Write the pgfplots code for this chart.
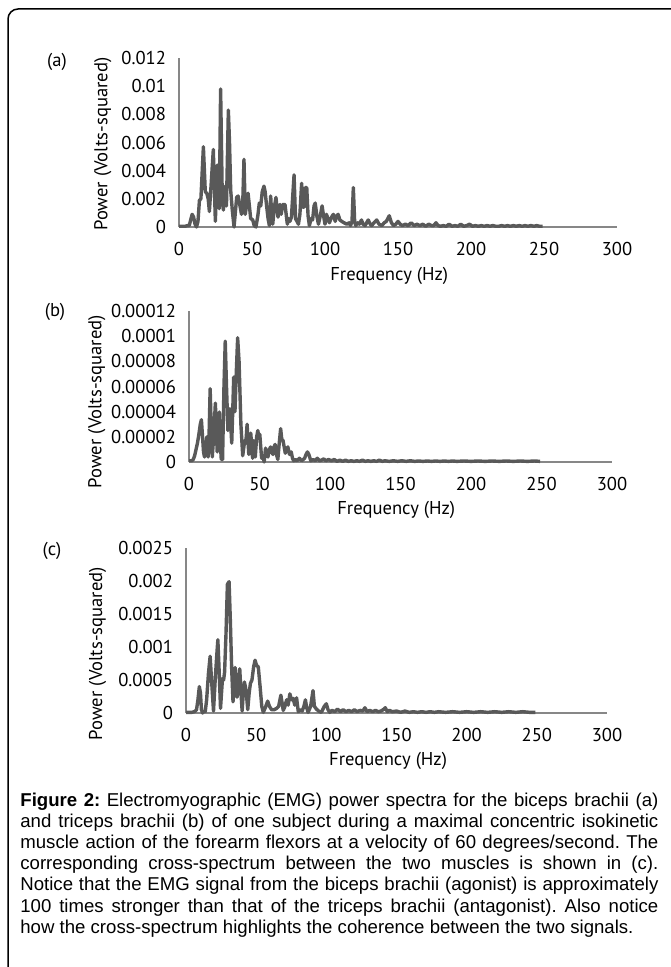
\documentclass[border=0pt]{standalone}
\usepackage{pgfplots}
\pgfplotsset{compat=1.18}
\usepackage{fontspec}
\setmainfont{Liberation Sans}
\newfontfamily\plotfont{PT Sans}
\definecolor{series}{HTML}{595959}
\definecolor{axisgray}{HTML}{878787}

\pgfplotsset{
  emg/.style={
    scale only axis,
    axis x line*=bottom, axis y line*=left,
    axis line style={axisgray, line width=0.8pt},
    xmin=0, xmax=300, xtick={0,50,...,300},
    ymin=0,
    major tick length=0pt,
    tick label style={font=\plotfont\fontsize{9.3}{11}\selectfont},
    label style={font=\plotfont\fontsize{9.3}{11}\selectfont},
    /pgf/number format/assume math mode=true,
    scaled y ticks=false,
    clip=false,
    xticklabel style={yshift=-4pt},
    yticklabel style={xshift=-3pt},
  },
  emgline/.style={draw=series, line width=1.7pt, line join=round, mark=none},
}

\begin{document}
\begin{tikzpicture}
\useasboundingbox (0pt,0pt) rectangle (335pt,-483.5pt);
\draw[line width=0.75pt, rounded corners=5pt] (4pt,-490pt) -- (4pt,-4.5pt) -- (340pt,-4.5pt);

% (a) biceps brachii
\begin{axis}[emg,
  at={(89.5pt,-113.5pt)}, anchor=south west,
  width=219pt, height=84.5pt,
  ymax=0.012,
  ytick={0,0.002,0.004,0.006,0.008,0.01,0.012},
  yticklabels={0,0.002,0.004,0.006,0.008,0.01,0.012},
  xlabel={Frequency (Hz)}, ylabel={Power (Volts-squared)},
  xlabel style={at={(axis description cs:0.48,-0.29)}, anchor=center},
  ylabel style={at={(axis description cs:-0.174,0.49)}, anchor=center},
]
\addplot[emgline] coordinates {
(0,0.00005) (2,0.00005) (4,0.00005) (6,0.0001) (7,0.0001) (8,0.0005) (9,0.0009) (10,0.0007) (11,0.0002) (12,0) (13,0.0004) (14,0.0019) (15,0.002) (16.7,0.0057) (18,0.0025) (19,0.0024) (20,0.002) (20.8,0.0011) (22,0.003) (23.5,0.0055) (24.9,0.0004) (26.2,0.0044) (27.6,0.0013) (28.5,0.0098) (29.5,0.003) (30.4,0.0012) (31.7,0.0029) (32.5,0.0015) (33.8,0.0083) (34.6,0.006) (35.4,0.0026) (36.5,0.0012) (37.7,0) (39.5,0.0021) (40.5,0.0022) (41.4,0.0017) (42.8,0.0009) (43.6,0.0015) (44.5,0.0048) (45.4,0.0009) (46.3,0.0016) (47.3,0.0024) (48.2,0.0015) (49.1,0.0006) (50.5,0.0005) (51.5,0.0001) (52.7,0) (54,0.0008) (55,0.0017) (56,0.0015) (57,0.0025) (58.2,0.0029) (59,0.0025) (60,0.0015) (61,0.0006) (61.9,0.0001) (62.8,0.0022) (63.5,0.0008) (64.2,0.0002) (65.3,0.0014) (66.4,0.0021) (67.8,0.0007) (69.2,0.0016) (70,0.0009) (71,0.0016) (72.6,0.0016) (74.2,0.0002) (75,0.0006) (76,0.0004) (77,0.0007) (78.8,0.0037) (79.8,0.0006) (80.8,0.0004) (81.8,0.0002) (82.8,0.0009) (84,0.0031) (84.8,0.0014) (85.6,0.0014) (86.5,0.0028) (87.5,0.0028) (88.4,0.0008) (89.3,0.0001) (90.5,0.0006) (91.5,0.0005) (92.5,0.0015) (93.3,0.0017) (94.4,0.0008) (95.5,0.0002) (96.8,0.0008) (98,0.0015) (99,0.0008) (100,0.0002) (101,0.0009) (102,0.0006) (103,0.0003) (104.5,0.0007) (105.7,0.0009) (107,0.0004) (108,0.0008) (109,0.0009) (110.2,0.0005) (111.5,0.0004) (113,0.0003) (115,0.0002) (116.5,0.0003) (117.5,0.0001) (118.5,0.0004) (119.4,0.0028) (120.3,0.0004) (121,0.0001) (122.5,0.0003) (123.5,0.0002) (125,0.0005) (126,0.0002) (127.5,0.0001) (128.5,0.0003) (129.6,0.0005) (131,0.0002) (132,0.0001) (133.5,0.0003) (135.4,0.0005) (137,0.0002) (139,0.0001) (140.5,0.0003) (142,0.0004) (144,0.0008) (145.5,0.0003) (147,0.0001) (148.5,0.0002) (150,0.0004) (151.5,0.0002) (153,0.0001) (155,0.0002) (157,0.0001) (159,0.0003) (161,0.0001) (163,0.0002) (165,0.0001) (167,0.0002) (169,0.00005) (171,0.0002) (173,0.0001) (174.5,0.0001) (176,0.0003) (177.5,0.0001) (179,0.00005) (181,0.0001) (183,0.00005) (185,0.0002) (187,0.00005) (189,0.0001) (191,0.00005) (193,0.0002) (195,0.00005) (197,0.0001) (199,0.0002) (201,0.00005) (203,0.0001) (205,0.00005) (207,0.0001) (209,0.00005) (211,0.0001) (213,0.00005) (215,0.0001) (217,0.00005) (219,0.00005) (221,0.0001) (223,0.00005) (225,0.0001) (227,0.00005) (229,0.0001) (231,0.00005) (233,0.0001) (235,0.00005) (237,0.0001) (239,0.00005) (241,0.0001) (243,0.00005) (245,0.0001) (247,0.00005) (249,0.00005)
};
\end{axis}

% (b) triceps brachii
\begin{axis}[emg,
  at={(94.5pt,-231pt)}, anchor=south west,
  width=211.5pt, height=75.5pt,
  ymax=0.00012,
  ytick={0,2e-5,4e-5,6e-5,8e-5,1e-4,1.2e-4},
  yticklabels={0,0.00002,0.00004,0.00006,0.00008,0.0001,0.00012},
  xlabel={Frequency (Hz)}, ylabel={Power (Volts-squared)},
  xlabel style={at={(axis description cs:0.49,-0.32)}, anchor=center},
  ylabel style={at={(axis description cs:-0.218,0.4)}, anchor=center},
]
\addplot[emgline] coordinates {
(0,0.1e-5) (2,0.1e-5) (3,0.2e-5) (4,0.5e-5) (5,1e-5) (6,1.5e-5) (7,2.2e-5) (8,3e-5) (8.8,3.36e-5) (9.6,2e-5) (10.3,0.8e-5) (11,0.4e-5) (11.8,1.2e-5) (12.7,2e-5) (13.6,0.4e-5) (14.3,2.5e-5) (15,5.83e-5) (15.8,2.5e-5) (16.5,0.4e-5) (17.5,2e-5) (18.7,4.68e-5) (19.4,2.5e-5) (20,0.8e-5) (20.8,3e-5) (21.5,3.97e-5) (22.2,1.5e-5) (22.9,0.2e-5) (23.8,0.2e-5) (24.8,6e-5) (25.7,9.6e-5) (26.6,6e-5) (27.6,2.5e-5) (29,4.23e-5) (30.3,1.5e-5) (31,4e-5) (31.7,6.75e-5) (32.6,4e-5) (33.5,7e-5) (34.5,9.87e-5) (35.5,8e-5) (36.8,3e-5) (38.1,0.5e-5) (39.5,1.7e-5) (40.3,1.5e-5) (41.2,3e-5) (42.4,0.6e-5) (43.1,1e-5) (43.8,2.3e-5) (45.1,0.3e-5) (46,1.7e-5) (47,0.4e-5) (48,2e-5) (48.8,2.5e-5) (49.5,2e-5) (50.2,2.2e-5) (51.5,0.3e-5) (52.5,0.5e-5) (53.3,0) (54.3,1.1e-5) (55.2,0.6e-5) (56,0.4e-5) (57,1e-5) (57.9,1.2e-5) (58.7,0.8e-5) (59.5,0.6e-5) (60.3,1.2e-5) (61.1,1.4e-5) (62,0.6e-5) (63,0.2e-5) (64,1.5e-5) (65,2.65e-5) (65.8,1.8e-5) (66.7,1.7e-5) (67.5,1.2e-5) (68.3,0.7e-5) (69.2,1e-5) (70.1,1.2e-5) (71.3,0.6e-5) (72.5,0.8e-5) (73.4,0.3e-5) (74.3,0.1e-5) (75.5,0.2e-5) (76.6,0.1e-5) (77.5,0.2e-5) (78.3,0.3e-5) (79.9,0.1e-5) (81,0.2e-5) (82,0.3e-5) (83,0.6e-5) (84,0.8e-5) (85,0.6e-5) (86.4,0.1e-5) (88,0.2e-5) (89.5,0.1e-5) (91,0.3e-5) (92.5,0.1e-5) (94,0.15e-5) (95.6,0.25e-5) (97,0.1e-5) (99,0.2e-5) (101,0.1e-5) (103,0.2e-5) (105,0.05e-5) (107,0.15e-5) (109,0.05e-5) (111,0.15e-5) (113,0.05e-5) (115,0.1e-5) (117,0.05e-5) (119,0.1e-5) (121,0.05e-5) (123,0.15e-5) (125,0.05e-5) (127,0.1e-5) (129,0.05e-5) (131,0.1e-5) (133,0.05e-5) (135,0.15e-5) (137,0.05e-5) (139,0.1e-5) (142,0.05e-5) (145,0.1e-5) (148,0.05e-5) (151,0.1e-5) (154,0.05e-5) (157,0.1e-5) (160,0.05e-5) (163,0.08e-5) (166,0.05e-5) (169,0.08e-5) (172,0.05e-5) (175,0.08e-5) (178,0.05e-5) (181,0.08e-5) (184,0.05e-5) (187,0.08e-5) (190,0.05e-5) (195,0.08e-5) (200,0.05e-5) (205,0.08e-5) (210,0.05e-5) (215,0.08e-5) (220,0.05e-5) (225,0.08e-5) (230,0.05e-5) (235,0.08e-5) (240,0.05e-5) (245,0.08e-5) (249,0.05e-5)
};
\end{axis}

% (c) cross-spectrum
\begin{axis}[emg,
  at={(93pt,-356.5pt)}, anchor=south west,
  width=210.5pt, height=82.5pt,
  ymax=0.0025,
  ytick={0,0.0005,0.001,0.0015,0.002,0.0025},
  yticklabels={0,0.0005,0.001,0.0015,0.002,0.0025},
  xlabel={Frequency (Hz)}, ylabel={Power (Volts-squared)},
  xlabel style={at={(axis description cs:0.48,-0.29)}, anchor=center},
  ylabel style={at={(axis description cs:-0.21,0.36)}, anchor=center},
]
\addplot[emgline] coordinates {
(0,0.00001) (2,0.00001) (4,0.00001) (6,0.00002) (7.5,0.00005) (8.5,0.0002) (9.5,0.0004) (10.3,0.0003) (11,0.00005) (11.8,0) (12.8,0.00003) (13.7,0.00002) (14.7,0.0002) (16,0.0006) (17.2,0.00086) (18.2,0.0005) (19.6,0.00003) (20.8,0.0005) (22,0.0009) (22.7,0.00111) (23.5,0.0007) (24.6,0.00007) (25.3,0.0003) (26,0.00052) (26.8,0.0005) (27.5,0.00062) (28.5,0.0012) (29.5,0.00195) (30.7,0.00199) (31.6,0.0014) (32.5,0.0007) (33.5,0.00017) (34.3,0.0004) (35,0.00069) (35.7,0.0005) (36.4,0.00024) (37.3,0.0004) (38.3,0.00067) (39.2,0.0003) (40,0.00003) (40.8,0.0003) (41.6,0.00047) (42.3,0.0004) (43,0.0003) (44,0.00005) (45,0.0003) (45.9,0.00045) (47,0.0005) (48.2,0.0007) (49.2,0.0008) (50.3,0.00072) (51.5,0.0007) (52.8,0.0004) (54,0.0001) (55.1,0.00001) (56.5,0.00008) (58.2,0.00018) (59.5,0.0001) (61,0.00005) (62.8,0.00005) (64.6,0.00007) (66,0.0001) (67.6,0.00027) (68.5,0.00015) (69.3,0.00004) (70.5,0.0001) (71.7,0.0002) (72.8,0.00012) (74,0.00029) (75.2,0.0002) (76.4,0.00022) (77.5,0.00012) (78.8,0.00023) (80,0.00002) (81.4,0.00005) (82.8,0.00003) (84,0.0001) (85.1,0.0002) (86,0.00008) (87,0.00001) (88.8,0.0001) (90.5,0.00034) (91.5,0.0001) (92.9,0.00006) (94.5,0.00003) (96.5,0.00001) (98.5,0.0001) (100,0.00014) (101.2,0.00005) (102.4,0.00001) (104,0.00004) (106,0.00002) (108,0.00006) (110,0.00002) (112,0.00005) (114,0.00002) (116,0.00004) (118,0.00002) (120,0.00005) (122,0.00002) (124,0.00004) (126,0.00003) (127.5,0.00008) (129,0.00002) (131,0.00004) (133,0.00002) (135,0.00004) (137,0.00002) (139,0.00003) (140.5,0.00005) (142,0.00008) (143.5,0.00002) (145,0.00004) (147,0.00002) (150,0.00003) (153,0.00001) (156,0.00003) (159,0.00001) (162,0.00002) (165,0.00001) (168,0.00002) (171,0.00001) (174,0.00002) (177,0.00001) (180,0.00002) (185,0.00001) (190,0.00002) (195,0.00001) (200,0.00002) (205,0.00001) (210,0.00002) (215,0.00001) (220,0.00002) (225,0.00001) (230,0.00002) (235,0.00001) (240,0.00002) (245,0.00001) (249,0.00001)
};
\end{axis}

\begin{scope}[every node/.style={font=\plotfont\fontsize{9.3}{11}\selectfont, inner sep=0pt}]
\node at (28.5pt,-31pt) {(a)};
\node at (27.5pt,-156pt) {(b)};
\node at (26pt,-275.5pt) {(c)};
\end{scope}

\node[anchor=base west, inner sep=0pt] at (10pt,-403pt) {\parbox[t]{319pt}{\fontsize{9.3}{10.6}\selectfont\frenchspacing
\textbf{Figure 2:} Electromyographic (EMG) power spectra for the biceps brachii (a)\linebreak
and triceps brachii (b) of one subject during a maximal concentric isokinetic\linebreak
muscle action of the forearm flexors at a velocity of 60 degrees/second. The\linebreak
corresponding cross-spectrum between the two muscles is shown in (c).\linebreak
Notice that the EMG signal from the biceps brachii (agonist) is approximately\linebreak
100 times stronger than that of the triceps brachii (antagonist). Also notice\linebreak
how the cross-spectrum highlights the coherence between the two signals.}};
\end{tikzpicture}
\end{document}
